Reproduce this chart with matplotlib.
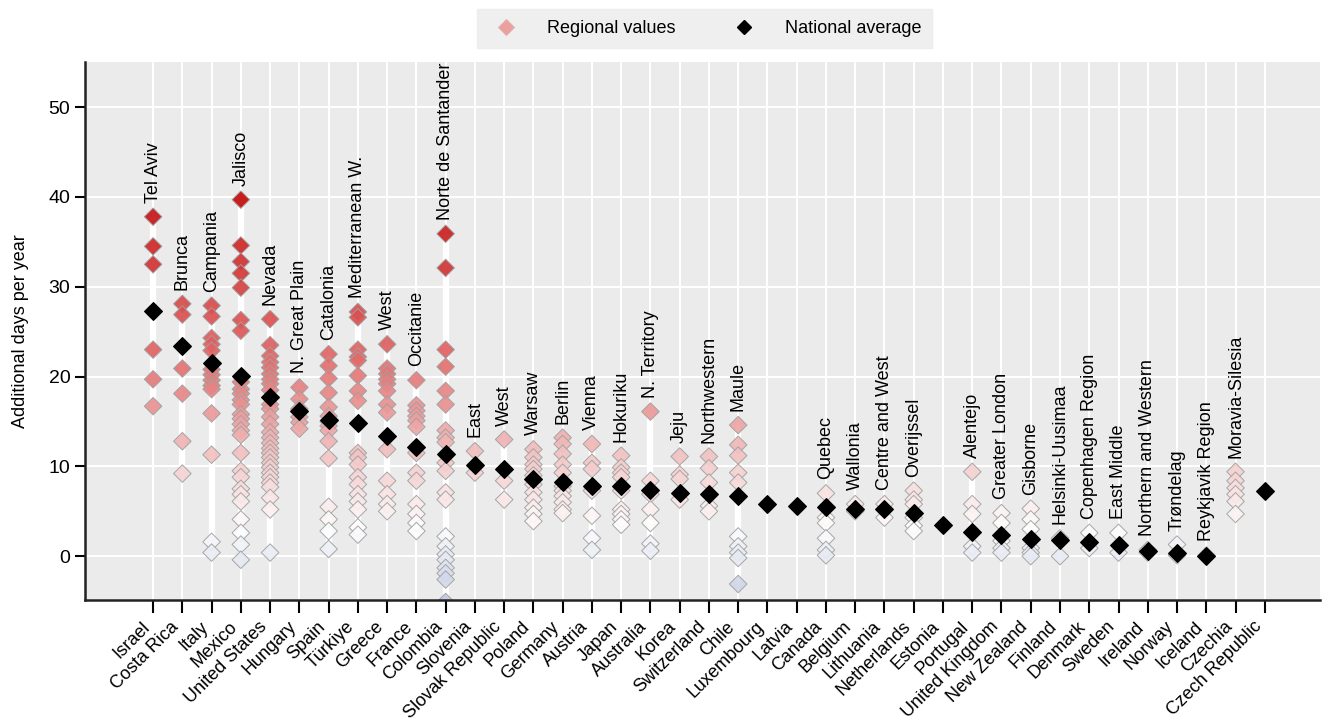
import matplotlib
matplotlib.use("Agg")
import matplotlib.pyplot as plt
from matplotlib.colors import LinearSegmentedColormap, Normalize
from matplotlib.lines import Line2D
from matplotlib.transforms import ScaledTranslation

plt.rcParams['font.family'] = ['Liberation Sans', 'DejaVu Sans']
plt.rcParams['font.size'] = 13

countries = ["Israel", "Costa Rica", "Italy", "Mexico", "United States", "Hungary",
             "Spain", "Türkiye", "Greece", "France", "Colombia", "Slovenia",
             "Slovak Republic", "Poland", "Germany", "Austria", "Japan", "Australia",
             "Korea", "Switzerland", "Chile", "Luxembourg", "Latvia", "Canada",
             "Belgium", "Lithuania", "Netherlands", "Estonia", "Portugal",
             "United Kingdom", "New Zealand", "Finland", "Denmark", "Sweden",
             "Ireland", "Norway", "Iceland", "Czechia", "Czech Republic"]

top_regions = ["Tel Aviv", "Brunca", "Campania", "Jalisco", "Nevada", "N. Great Plain",
               "Catalonia", "Mediterranean W.", "West", "Occitanie", "Norte de Santander",
               "East", "West", "Warsaw", "Berlin", "Vienna", "Hokuriku", "N. Territory",
               "Jeju", "Northwestern", "Maule", "", "", "Quebec",
               "Wallonia", "Centre and West", "Overijssel", "", "Alentejo",
               "Greater London", "Gisborne", "Helsinki-Uusimaa", "Copenhagen Region", "East Middle",
               "Northern and Western", "Trøndelag", "Reykjavik Region", "Moravia-Silesia", ""]

national = [27.3, 23.4, 21.5, 20.1, 17.7, 16.2, 15.2, 14.8, 13.4, 12.2, 11.4, 10.2,
            9.7, 8.6, 8.3, 7.8, 7.8, 7.4, 7.0, 6.9, 6.7, 5.8, 5.6, 5.5,
            5.3, 5.3, 4.8, 3.5, 2.7, 2.4, 1.9, 1.8, 1.6, 1.2,
            0.6, 0.3, 0.0, None, 7.3]

regional = [
    [37.8, 34.5, 32.5, 23.0, 19.7, 16.7],
    [28.1, 26.9, 20.9, 18.1, 12.8, 9.2],
    [27.9, 26.7, 24.3, 23.6, 22.9, 20.8, 20.2, 19.6, 19.0, 18.6, 15.9, 11.3, 1.6, 0.4],
    [39.7, 34.6, 32.8, 31.5, 29.9, 26.3, 25.1, 19.4, 18.6, 18.1, 17.4, 16.9, 15.8, 15.3,
     14.7, 14.0, 13.5, 11.5, 9.5, 8.8, 7.5, 6.9, 6.1, 4.1, 2.6, 1.3, -0.4],
    [26.4, 23.5, 22.3, 21.6, 21.0, 20.3, 19.7, 19.2, 18.5, 16.9, 16.4, 15.5, 14.7, 13.8,
     13.2, 12.6, 12.0, 11.5, 11.0, 10.4, 9.9, 9.3, 8.8, 8.2, 7.7, 6.5, 5.2, 0.4],
    [18.8, 17.5, 16.4, 15.5, 14.9, 14.2],
    [22.5, 21.2, 19.8, 18.2, 16.6, 15.6, 15.0, 14.5, 14.0, 12.8, 10.9, 5.5, 4.1, 2.8, 0.8],
    [27.2, 26.6, 23.0, 22.2, 21.8, 20.1, 18.4, 17.3, 11.5, 11.0, 10.2, 8.8, 8.0, 6.9,
     6.1, 5.2, 3.2, 2.4],
    [23.6, 20.9, 20.3, 19.7, 19.2, 18.4, 16.9, 16.0, 11.9, 8.4, 6.9, 5.8, 5.0],
    [19.6, 16.8, 16.2, 15.6, 15.1, 14.4, 11.5, 9.3, 8.4, 5.8, 4.7, 3.7, 2.8],
    [35.9, 32.1, 23.0, 21.1, 18.4, 16.9, 14.0, 13.2, 12.7, 10.4, 9.5, 7.1, 6.3, 2.2,
     1.1, 0.2, -0.4, -1.3, -1.9, -2.6, -5.1],
    [11.7, 9.3],
    [13.0, 8.4, 6.3],
    [11.9, 11.0, 10.2, 9.7, 9.0, 8.0, 7.1, 6.3, 5.4, 4.7, 3.9],
    [13.2, 12.5, 11.4, 10.2, 9.3, 7.8, 7.3, 6.7, 6.0, 5.2, 4.8],
    [12.5, 10.4, 9.7, 7.3, 4.5, 2.0, 0.7],
    [11.2, 9.9, 9.3, 8.8, 7.3, 5.2, 4.7, 4.1, 3.5],
    [16.1, 8.4, 6.9, 5.2, 3.7, 1.4, 0.6],
    [11.1, 9.1, 8.6, 6.3],
    [11.1, 9.8, 8.2, 5.6, 5.0],
    [14.6, 12.4, 11.2, 9.3, 8.2, 2.2, 1.1, 0.4, -0.2, -3.1],
    [],
    [],
    [7.0, 4.3, 3.7, 2.0, 0.7, 0.1],
    [5.8, 5.0],
    [5.8, 4.3],
    [7.3, 6.3, 5.8, 4.3, 3.4, 2.8],
    [],
    [9.4, 5.8, 4.7, 1.1, 0.4],
    [4.8, 3.7, 1.7, 0.9, 0.4],
    [5.3, 4.1, 3.0, 0.9, 0.4, 0.0],
    [2.0, 0.0],
    [2.6, 0.9],
    [2.6, 0.4],
    [0.7, 0.4],
    [1.3, 0.1],
    [0.1],
    [9.4, 8.4, 7.6, 6.9, 6.1, 4.7],
    [],
]

# diverging scale: blue-grey below ~3 days, white around 3, deepening red above
vmin, vmax = -6, 40
stops = [(-6, "#bac4de"), (3, "#ffffff"), (10, "#f4cccc"), (17, "#e99090"),
         (23, "#e06262"), (30, "#d44242"), (40, "#c40a0a")]
cmap = LinearSegmentedColormap.from_list(
    "days", [((v - vmin) / (vmax - vmin), c) for v, c in stops])
norm = Normalize(vmin=vmin, vmax=vmax)

fig = plt.figure(figsize=(13.27, 7.24), dpi=100)
ax = fig.add_axes([0.064, 0.171, 0.931, 0.743])
ax.set_facecolor("#ebebeb")
ax.grid(True, color="white", lw=1.5)
ax.set_axisbelow(True)

for i, vals in enumerate(regional):
    if not vals:
        continue
    ax.vlines(i, min(vals), max(vals), color="white", lw=4.5, zorder=1.5)
    ax.scatter([i] * len(vals), vals, c=vals, cmap=cmap, norm=norm, marker="D", s=80,
               edgecolors="#a0a0a0", linewidths=0.7, alpha=0.92, zorder=2)
    if top_regions[i]:
        ax.annotate(top_regions[i], (i, max(vals)), xytext=(0, 10), textcoords="offset points",
                    rotation=90, ha="center", va="bottom", fontsize=13)

nat_x = [i for i, v in enumerate(national) if v is not None]
nat_y = [v for v in national if v is not None]
ax.scatter(nat_x, nat_y, color="black", marker="D", s=80, zorder=3)

ax.set_xlim(-2.33, 39.9)
ax.set_ylim(-4.9, 55)
ax.set_yticks([0, 10, 20, 30, 40, 50])
ax.set_xticks(range(len(countries)))
ax.set_xticklabels(countries, rotation=45, ha="right")
shift = ScaledTranslation(7 / 100, -4 / 100, fig.dpi_scale_trans)
for lab in ax.get_xticklabels():
    lab.set_transform(lab.get_transform() + shift)
ax.tick_params(axis="x", direction="out", length=9, width=1.5, pad=4)
ax.tick_params(axis="y", direction="out", length=7, width=1.5, labelsize=14)
for side in ["top", "right"]:
    ax.spines[side].set_visible(False)
for side in ["left", "bottom"]:
    ax.spines[side].set_linewidth(1.8)
    ax.spines[side].set_color("#222222")
ax.set_ylabel("Additional days per year", fontsize=13, labelpad=14)

handles = [
    Line2D([], [], ls="none", marker="D", ms=8, mfc="#eba0a0", mec="#e0b0b0", mew=0.7),
    Line2D([], [], ls="none", marker="D", ms=7, mfc="black", mec="black"),
]
leg = fig.legend(handles, ["Regional values", "National average"], loc="upper center",
                 bbox_to_anchor=(0.531, 1.0), ncol=2, frameon=True, fancybox=False,
                 fontsize=13, columnspacing=2.8, handletextpad=1.25, borderpad=0.6)
leg.get_frame().set_facecolor("#ebebeb")
leg.get_frame().set_edgecolor("#ebebeb")

fig.savefig("out.png", dpi=100)
